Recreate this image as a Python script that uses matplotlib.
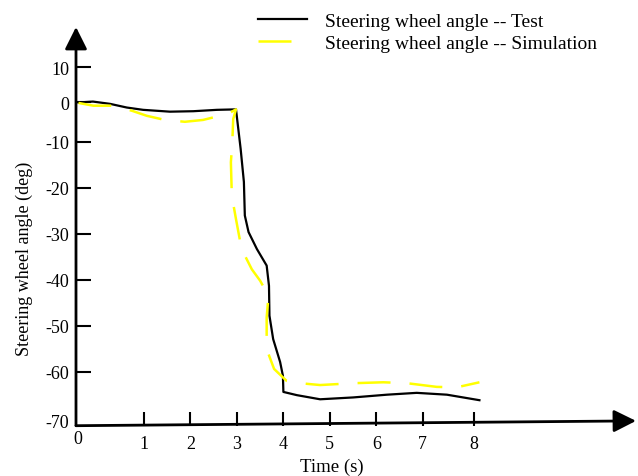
import matplotlib
matplotlib.use('Agg')
import matplotlib.pyplot as plt

plt.rcParams['font.family'] = ['Liberation Serif', 'DejaVu Serif']

# dados (tempo em s, angulo em graus)
t_test = [-0.41, -0.10, 0.27, 0.63, 0.98, 1.56, 2.06, 2.57, 2.98,
          3.08, 3.15, 3.17, 3.25, 3.43, 3.64, 3.69, 3.70, 3.78, 3.93, 3.99, 4.00,
          4.29, 4.79, 5.50, 6.23, 6.87, 7.52, 8.22]
ang_test = [-1.4, -1.2, -1.7, -2.5, -3.0, -3.4, -3.3, -3.0, -2.9,
            -11.5, -18.7, -26.0, -29.6, -33.3, -36.9, -41.3, -47.8, -52.9, -57.9, -60.9, -64.4,
            -65.1, -66.0, -65.6, -65.0, -64.6, -65.0, -66.2]

t_sim = [-0.41, -0.09, 0.31, 0.74, 1.06, 1.45, 1.88, 2.27, 2.59, 2.80, 2.98,
         2.92, 2.90, 2.87, 2.89, 2.98, 3.10, 3.32, 3.50, 3.68, 3.64, 3.64, 3.80,
         4.07, 4.36, 4.79, 5.51, 6.15, 6.66, 7.30, 7.73, 8.22]
ang_sim = [-1.5, -2.1, -2.1, -3.2, -4.3, -5.2, -5.6, -5.2, -4.4, -3.9, -2.9,
           -5.0, -10.1, -14.4, -21.7, -26.8, -33.3, -37.7, -40.2, -43.5, -48.2, -55.1, -59.4,
           -62.0, -62.5, -62.9, -62.5, -62.3, -62.5, -63.3, -63.4, -62.3]

# ticks (posicoes como desenhadas no original)
xtick_pos = [1, 2, 3, 4, 5, 6, 7, 8.1]
xtick_lab = ['1', '2', '3', '4', '5', '6', '7', '8']
ytick_pos = [6.26, -1.3, -10, -20, -30, -40, -50, -60]
ytick_lab = ['10', '0', '-10', '-20', '-30', '-40', '-50', '-60']

# limites dos eixos
x0, x1 = -0.464, 11.59
y0, y1 = -71.75, 15.03

fig = plt.figure(figsize=(6.38, 4.77), dpi=100)
ax = fig.add_axes([76/638, 1 - 426.7/477, 560/638, 398.7/477])
ax.set_xlim(x0, x1)
ax.set_ylim(y0, y1)
for s in ax.spines.values():
    s.set_visible(False)

ax.plot(t_test, ang_test, color='black', lw=1.6,
        label='Steering wheel angle -- Test')
ax.plot(t_sim, ang_sim, color='#ffff00', lw=1.8, dashes=(13.2, 7.6),
        label='Steering wheel angle -- Simulation')

# eixos com seta
seta = dict(arrowstyle='-|>,head_length=0.68,head_width=0.34', mutation_scale=20,
            lw=2, color='black', shrinkA=0, shrinkB=0)
ax.annotate('', xy=(x0, y1), xytext=(x0, y0), arrowprops=seta, annotation_clip=False)
ax.annotate('', xy=(x1, -70.7), xytext=(x0, y0), arrowprops=seta, annotation_clip=False)

ax.set_xticks(xtick_pos)
ax.set_xticklabels(xtick_lab)
ax.set_xticks([-0.42], minor=True)
ax.set_xticklabels(['0'], minor=True)
ax.set_yticks(ytick_pos)
ax.set_yticklabels(ytick_lab)
ax.set_yticks([-70.67], minor=True)
ax.set_yticklabels(['-70'], minor=True)
ax.tick_params(axis='x', which='major', direction='in', length=10, width=1.5, pad=7, labelsize=13)
ax.tick_params(axis='y', which='major', direction='in', length=10.8, width=1.5, pad=5, labelsize=13)
ax.tick_params(axis='x', which='minor', length=0, pad=3, labelsize=13)
ax.tick_params(axis='y', which='minor', length=0, pad=5, labelsize=13)

fig.text(24/638, 1 - 259/477, 'Steering wheel angle (deg)', rotation=90,
         ha='center', va='center', fontsize=13)
fig.text(332/638, 1 - 467/477, 'Time (s)', ha='center', va='center', fontsize=13.5)

ax.legend(loc='upper left', bbox_to_anchor=(258/638, 1 - 13/477),
          bbox_transform=fig.transFigure, frameon=False, fontsize=14,
          borderpad=0, borderaxespad=0, handlelength=2.5, handletextpad=0.95,
          labelspacing=0.25)

fig.savefig('out.png', dpi=100)
